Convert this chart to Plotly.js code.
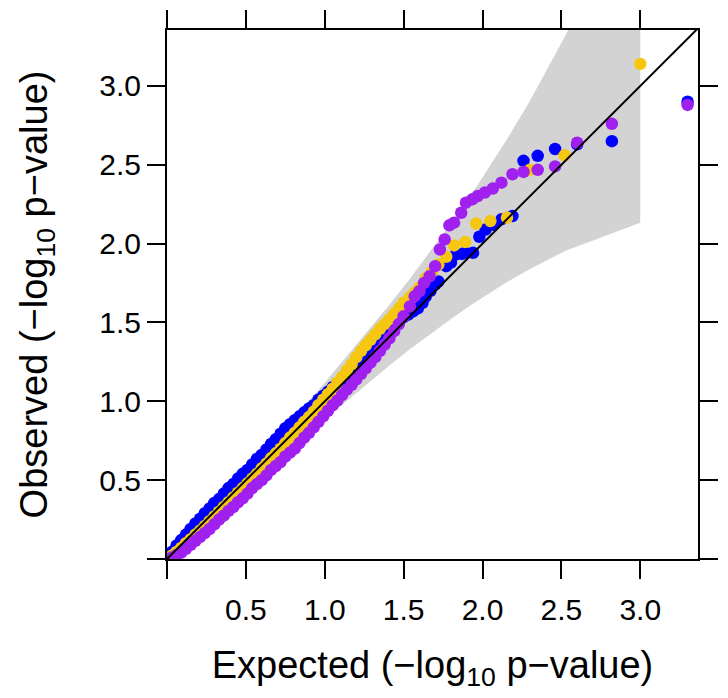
<!DOCTYPE html>
<html>
<head>
<meta charset="utf-8">
<script src="https://cdn.plot.ly/plotly-3.0.1.min.js"></script>
<style>html,body{margin:0;padding:0;background:#fff;}</style>
</head>
<body>
<div id="chart" style="width:728px;height:698px;"></div>
<script>
// ---- data ----
const tickVals = [0, 0.5, 1.0, 1.5, 2.0, 2.5, 3.0];
const tickText = ['', '0.5', '1.0', '1.5', '2.0', '2.5', '3.0'];

// 95% band (expected vs. upper / lower observed)
const bandX     = [0.000, 0.097, 0.222, 0.399, 0.524, 0.702, 1.004, 1.232, 1.410, 1.537, 1.721, 1.824, 1.959, 2.046, 2.155, 2.301, 2.523, 3.000];
const bandUpper = [0.003, 0.116, 0.254, 0.447, 0.585, 0.778, 1.122, 1.393, 1.612, 1.775, 2.018, 2.161, 2.356, 2.489, 2.662, 2.907, 3.315, 4.296];
const bandLower = [0.000, 0.078, 0.192, 0.354, 0.468, 0.626, 0.890, 1.078, 1.227, 1.328, 1.466, 1.540, 1.632, 1.689, 1.756, 1.840, 1.953, 2.132];

// blue series
const blueExpected = [0.00,0.03,0.06,0.09,0.12,0.15,0.18,0.21,0.24,0.27,0.30,0.33,0.36,0.39,0.42,0.45,0.48,0.51,0.54,0.57,0.60,0.63,0.66,0.69,0.72,0.75,0.78,0.81,0.84,0.87,0.90,0.93,0.96,0.99,1.02,1.05,1.08,1.11,1.14,1.17,1.20,1.23,1.26,1.29,1.32,1.35,1.38,1.41,1.44,1.47,1.50,1.53,1.56,1.59,1.62,1.64,1.67,1.70,1.72,1.77,1.80,1.83,1.87,1.89,1.94,1.98,2.02,2.07,2.12,2.19,2.26,2.35,2.46,2.60,2.82,3.30];
const blueObserved = [0.00,0.045,0.085,0.12,0.155,0.19,0.225,0.255,0.29,0.32,0.355,0.38,0.415,0.45,0.475,0.51,0.54,0.565,0.60,0.635,0.66,0.695,0.73,0.76,0.795,0.83,0.855,0.88,0.905,0.93,0.955,0.975,1.01,1.035,1.06,1.09,1.115,1.14,1.17,1.195,1.23,1.255,1.28,1.32,1.355,1.38,1.40,1.43,1.465,1.50,1.535,1.55,1.57,1.59,1.625,1.665,1.70,1.74,1.76,1.857,1.88,1.93,1.935,1.942,1.942,2.044,2.09,2.12,2.154,2.175,2.525,2.557,2.60,2.63,2.65,2.90];

// gold series
const goldExpected = [0.00,0.03,0.06,0.09,0.12,0.15,0.18,0.21,0.24,0.27,0.30,0.33,0.36,0.39,0.42,0.45,0.48,0.51,0.54,0.57,0.60,0.63,0.66,0.69,0.72,0.75,0.78,0.81,0.84,0.87,0.90,0.93,0.96,0.99,1.02,1.05,1.08,1.11,1.14,1.17,1.20,1.23,1.26,1.29,1.32,1.35,1.38,1.41,1.44,1.47,1.50,1.54,1.57,1.60,1.64,1.68,1.72,1.77,1.82,1.89,1.96,2.05,2.155,2.30,2.52,3.00];
const goldObserved = [0.00,0.02,0.045,0.07,0.10,0.125,0.155,0.18,0.21,0.24,0.27,0.30,0.33,0.36,0.39,0.42,0.45,0.48,0.51,0.54,0.575,0.605,0.64,0.67,0.70,0.735,0.77,0.80,0.835,0.87,0.90,0.935,0.975,1.01,1.045,1.08,1.12,1.155,1.195,1.235,1.28,1.32,1.355,1.39,1.425,1.46,1.49,1.52,1.555,1.59,1.625,1.66,1.688,1.72,1.78,1.82,1.868,1.917,1.989,2.01,2.128,2.143,2.165,2.468,2.56,3.14];

// purple series
const purpleExpected = [0.00,0.03,0.06,0.09,0.12,0.15,0.18,0.21,0.24,0.27,0.30,0.33,0.36,0.39,0.42,0.45,0.48,0.51,0.54,0.57,0.60,0.63,0.66,0.69,0.72,0.75,0.78,0.81,0.84,0.87,0.90,0.93,0.96,0.99,1.02,1.05,1.08,1.11,1.14,1.17,1.20,1.23,1.26,1.29,1.32,1.35,1.38,1.41,1.44,1.47,1.50,1.54,1.57,1.60,1.63,1.665,1.70,1.73,1.76,1.79,1.82,1.865,1.895,1.935,1.97,2.015,2.065,2.12,2.19,2.26,2.35,2.46,2.60,2.82,3.30];
const purpleObserved = [0.00,0.01,0.025,0.04,0.065,0.09,0.115,0.14,0.165,0.19,0.22,0.25,0.275,0.305,0.33,0.36,0.385,0.415,0.45,0.475,0.50,0.53,0.565,0.59,0.615,0.65,0.675,0.70,0.735,0.77,0.80,0.835,0.87,0.905,0.94,0.975,1.005,1.04,1.075,1.105,1.14,1.175,1.21,1.245,1.28,1.32,1.36,1.40,1.445,1.49,1.54,1.602,1.666,1.698,1.751,1.793,1.857,1.963,2.027,2.116,2.133,2.196,2.26,2.281,2.302,2.324,2.349,2.387,2.44,2.455,2.468,2.49,2.64,2.76,2.88];

// reference line y = x
const refLine = [0, 4];

// ---- traces ----
const band = {
  x: bandX.concat(bandX.slice().reverse()),
  y: bandUpper.concat(bandLower.slice().reverse()),
  type: 'scatter', mode: 'lines', fill: 'toself',
  fillcolor: '#D3D3D3', line: {width: 0, color: '#D3D3D3'}, hoverinfo: 'skip'
};
function pts(x, y, color) {
  return {x: x, y: y, type: 'scatter', mode: 'markers',
    marker: {size: 12.5, color: color, line: {width: 0}}};
}
const diag = {x: refLine, y: refLine, type: 'scatter', mode: 'lines',
  line: {color: '#000000', width: 2}};

const axisCommon = {
  range: [0, 3.366], tickmode: 'array', tickvals: tickVals, ticktext: tickText,
  ticks: 'outside', ticklen: 18, tickwidth: 2, tickcolor: '#000',
  showline: true, linewidth: 2, linecolor: '#000', mirror: 'ticks',
  showgrid: false, zeroline: false, automargin: false,
  tickfont: {size: 30, color: '#000', family: 'Liberation Sans, Arial, sans-serif'}
};

const layout = {
  width: 728, height: 698,
  margin: {l: 167, r: 30, t: 30, b: 139, pad: 0},
  paper_bgcolor: '#fff', plot_bgcolor: '#fff', showlegend: false,
  font: {family: 'Liberation Sans, Arial, sans-serif', color: '#000'},
  xaxis: Object.assign({}, axisCommon, {
    ticklabelstandoff: 5,
    title: {text: 'Expected (\u2212log<sub>10</sub> p\u2212value)', font: {size: 38}, standoff: 26}
  }),
  yaxis: Object.assign({}, axisCommon, {
    range: [0, 3.355],
    title: {text: 'Observed (\u2212log<sub>10</sub> p\u2212value)', font: {size: 38}, standoff: 40}
  })
};

Plotly.newPlot('chart', [band, pts(blueExpected, blueObserved, '#0000FF'),
  pts(goldExpected, goldObserved, '#F5C710'),
  pts(purpleExpected, purpleObserved, '#A020F0'), diag], layout,
  {displayModeBar: false, staticPlot: true});
</script>
</body>
</html>
